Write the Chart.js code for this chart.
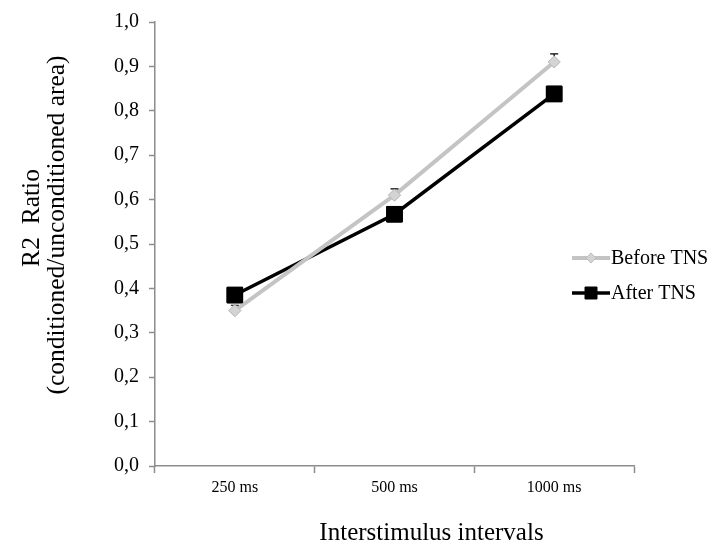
<!DOCTYPE html>
<html>
<head>
<meta charset="utf-8">
<script src="https://cdn.jsdelivr.net/npm/chart.js@4"></script>
<style>
  html, body { margin: 0; padding: 0; background: #fff; }
  #wrap { width: 718px; height: 544px; }
</style>
</head>
<body>
<div id="wrap"><canvas id="myChart" width="718" height="544"></canvas></div>
<script>
// data
const categories = ['250 ms', '500 ms', '1000 ms'];
const beforeTNS = [0.35, 0.61, 0.91];
const afterTNS = [0.385, 0.567, 0.838];
const beforeErr = [0.012, 0.014, 0.018];
const afterErr = [0.008, 0.008, 0.012];
const seriesNames = ['Before TNS', 'After TNS'];
const xTitle = 'Interstimulus intervals';
const yTitle = ['R2  Ratio', '(conditioned/unconditioned area)'];

const FONT = "'Liberation Serif', 'Times New Roman', serif";
const AXIS = '#8c8c8c';

// upward error bars, drawn from scales
const errorBars = {
    id: 'errorBars',
    afterDatasetsDraw(chart) {
        const ctx = chart.ctx;
        const y = chart.scales.y;
        const errs = [beforeErr, afterErr];
        ctx.save();
        ctx.strokeStyle = '#000';
        ctx.lineWidth = 1.2;
        chart.data.datasets.forEach(function (ds, i) {
            const meta = chart.getDatasetMeta(i);
            meta.data.forEach(function (pt, j) {
                const top = y.getPixelForValue(ds.data[j] + errs[i][j]);
                ctx.beginPath();
                ctx.moveTo(pt.x, pt.y);
                ctx.lineTo(pt.x, top);
                ctx.moveTo(pt.x - 4, top);
                ctx.lineTo(pt.x + 4, top);
                ctx.stroke();
            });
        });
        ctx.restore();
        // redraw points on top of the bars
        chart.data.datasets.forEach(function (ds, i) {
            chart.getDatasetMeta(i).data.forEach(function (pt) {
                pt.draw(ctx, chart.chartArea);
            });
        });
    }
};

// axis titles (the original has them a bit off-centre)
const axisTitles = {
    id: 'axisTitles',
    afterDraw(chart) {
        const ctx = chart.ctx;
        const area = chart.chartArea;
        ctx.save();
        ctx.fillStyle = '#000';
        ctx.font = '25px ' + FONT;
        ctx.textAlign = 'center';
        ctx.textBaseline = 'alphabetic';
        ctx.fillText(xTitle, (area.left + area.right) / 2 + 37, chart.height - 4);

        ctx.font = '25.5px ' + FONT;
        const cols = [39, 64];
        const mids = [218, 225];
        yTitle.forEach(function (line, i) {
            ctx.save();
            ctx.translate(cols[i], mids[i]);
            ctx.rotate(-Math.PI / 2);
            ctx.fillText(line, 0, 0);
            ctx.restore();
        });
        ctx.restore();
    }
};

// line + marker legend at the right
const sideLegend = {
    id: 'sideLegend',
    afterDraw(chart) {
        const ctx = chart.ctx;
        const area = chart.chartArea;
        const x0 = area.right - 62;
        const rows = [area.top + 236, area.top + 271];
        ctx.save();
        ctx.font = '20px ' + FONT;
        ctx.textBaseline = 'middle';
        chart.data.datasets.forEach(function (ds, i) {
            const yy = rows[i];
            ctx.strokeStyle = ds.borderColor;
            ctx.lineWidth = ds.borderWidth;
            ctx.beginPath();
            ctx.moveTo(x0, yy);
            ctx.lineTo(x0 + 38, yy);
            ctx.stroke();
            ctx.fillStyle = ds.pointBackgroundColor;
            ctx.strokeStyle = ds.pointBorderColor;
            ctx.lineWidth = 1;
            ctx.beginPath();
            if (i === 0) {
                ctx.moveTo(x0 + 19, yy - 5); ctx.lineTo(x0 + 24, yy);
                ctx.lineTo(x0 + 19, yy + 5); ctx.lineTo(x0 + 14, yy);
            } else {
                ctx.rect(x0 + 13, yy - 6, 12, 12);
            }
            ctx.closePath();
            ctx.fill();
            ctx.stroke();
            ctx.fillStyle = '#000';
            ctx.fillText(seriesNames[i], x0 + 39, yy + 1);
        });
        ctx.restore();
    }
};

new Chart(document.getElementById('myChart').getContext('2d'), {
    type: 'line',
    data: {
        labels: categories,
        datasets: [{
            label: seriesNames[0],
            data: beforeTNS,
            borderColor: '#c4c4c4',
            borderWidth: 4,
            pointStyle: 'rectRot',
            pointRadius: 6,
            pointBackgroundColor: '#d4d4d4',
            pointBorderColor: '#bdbdbd',
            pointBorderWidth: 1,
            tension: 0
        }, {
            label: seriesNames[1],
            data: afterTNS,
            borderColor: '#000',
            borderWidth: 3.5,
            pointStyle: 'rect',
            pointRadius: 11,
            pointBackgroundColor: '#000',
            pointBorderColor: '#000',
            pointBorderWidth: 1,
            tension: 0
        }]
    },
    options: {
        responsive: false,
        animation: false,
        layout: { padding: { left: 0, right: 84, top: 22, bottom: 0 } },
        plugins: {
            legend: { display: false },
            tooltip: { enabled: false }
        },
        scales: {
            x: {
                offset: true,
                grid: {
                    display: true,
                    drawOnChartArea: false,
                    offset: true,
                    color: AXIS,
                    tickLength: 7,
                    tickWidth: 1.5
                },
                border: { color: AXIS, width: 1.5 },
                ticks: { color: '#000', font: { family: FONT, size: 16 }, padding: 5 },
                afterFit: function (s) { s.height = 78; }
            },
            y: {
                min: 0,
                max: 1,
                grid: {
                    display: true,
                    drawOnChartArea: false,
                    color: AXIS,
                    tickLength: 6,
                    tickWidth: 1.5
                },
                border: { color: AXIS, width: 1.5 },
                ticks: {
                    stepSize: 0.1,
                    color: '#000',
                    font: { family: FONT, size: 20 },
                    padding: 10,
                    callback: function (v) { return v.toFixed(1).replace('.', ','); }
                },
                afterFit: function (s) { s.width = 155; }
            }
        }
    },
    plugins: [errorBars, axisTitles, sideLegend]
});
</script>
</body>
</html>
